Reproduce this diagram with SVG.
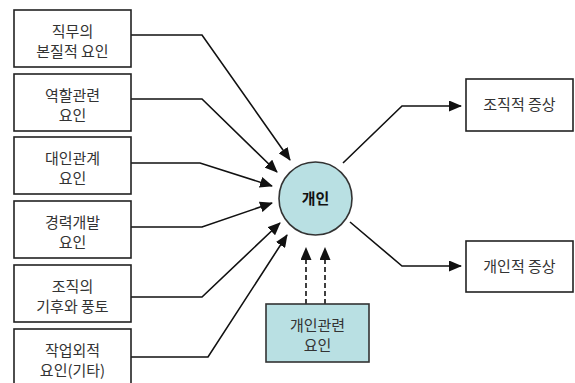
<svg xmlns="http://www.w3.org/2000/svg" width="575" height="383" viewBox="0 0 575 383">
<style>
.box{fill:#fff;stroke:#222;stroke-width:1.6}
.teal{fill:#b9e0e3;stroke:#333;stroke-width:1.6}
.t{font-family:"Noto Sans CJK KR","Noto Sans",sans-serif;font-size:15px;fill:#333;text-anchor:middle}
.b{font-weight:bold;fill:#111}
.c{fill:none;stroke:#111;stroke-width:1.6}
.d{stroke-dasharray:5,3}
</style>
<defs>
<marker id="ah" markerUnits="userSpaceOnUse" markerWidth="13" markerHeight="11" refX="12" refY="5.5" orient="auto">
<path d="M0,0 L13,5.5 L0,11 Z" fill="#111"/>
</marker>
</defs>
<rect width="575" height="383" fill="#fff"/>
<g id="connectors">
<polyline class="c" points="131,35 202,35 290,160" marker-end="url(#ah)"/>
<polyline class="c" points="131,99 202,99 277,172" marker-end="url(#ah)"/>
<polyline class="c" points="131,163 200,163 272,186" marker-end="url(#ah)"/>
<polyline class="c" points="131,227 202,227 272,203" marker-end="url(#ah)"/>
<polyline class="c" points="131,297 202,297 280,223" marker-end="url(#ah)"/>
<polyline class="c" points="131,357 208,357 287,235" marker-end="url(#ah)"/>
<polyline class="c" points="343,163 402,106 461,106" marker-end="url(#ah)"/>
<polyline class="c" points="350,222 402,266 461,266" marker-end="url(#ah)"/>
<line class="c d" x1="306" y1="304" x2="306" y2="248" marker-end="url(#ah)"/>
<line class="c d" x1="325" y1="304" x2="325" y2="248" marker-end="url(#ah)"/>
</g>
<g id="n1"><rect class="box" x="14" y="10" width="117" height="57"/><text class="t" x="72.5" y="36.5">직무의</text><text class="t" x="72.5" y="56.5">본질적 요인</text></g>
<g id="n2"><rect class="box" x="14" y="74" width="117" height="57"/><text class="t" x="72.5" y="100.5">역할관련</text><text class="t" x="72.5" y="120.5">요인</text></g>
<g id="n3"><rect class="box" x="14" y="137" width="117" height="57"/><text class="t" x="72.5" y="163.5">대인관계</text><text class="t" x="72.5" y="183.5">요인</text></g>
<g id="n4"><rect class="box" x="14" y="201" width="117" height="57"/><text class="t" x="72.5" y="227.5">경력개발</text><text class="t" x="72.5" y="247.5">요인</text></g>
<g id="n5"><rect class="box" x="14" y="265" width="117" height="57"/><text class="t" x="72.5" y="291.5">조직의</text><text class="t" x="72.5" y="311.5">기후와 풍토</text></g>
<g id="n6"><rect class="box" x="14" y="329" width="117" height="60"/><text class="t" x="72.5" y="355.5">작업외적</text><text class="t" x="72.5" y="375.5">요인(기타)</text></g>
<g id="center"><circle class="teal" cx="315.5" cy="198.5" r="36.5"/><text class="t b" x="315.5" y="204">개인</text></g>
<g id="out1"><rect class="box" x="466" y="79" width="107" height="52"/><text class="t" x="519.5" y="110">조직적 증상</text></g>
<g id="out2"><rect class="box" x="466" y="241" width="107" height="51"/><text class="t" x="519.5" y="272">개인적 증상</text></g>
<g id="personal"><rect class="teal" x="266" y="304" width="103" height="58"/><text class="t" x="317.5" y="330.5">개인관련</text><text class="t" x="317.5" y="350.5">요인</text></g>
</svg>
